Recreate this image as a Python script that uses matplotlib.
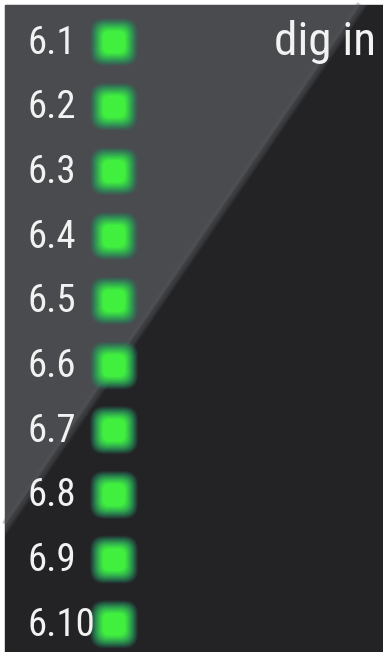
import numpy as np
import matplotlib.pyplot as plt
from matplotlib.patches import Polygon, Rectangle, FancyBboxPatch
from matplotlib import font_manager

# channel labels and LED states (1 = lit)
labels = ["6.1", "6.2", "6.3", "6.4", "6.5", "6.6", "6.7", "6.8", "6.9", "6.10"]
led_on = [1, 1, 1, 1, 1, 1, 1, 1, 1, 1]
title = "dig in"

W, H = 383, 652
fig = plt.figure(figsize=(W / 100, H / 100), dpi=100, facecolor="white")
ax = fig.add_axes([0, 0, 1, 1])
ax.set_xlim(0, W)
ax.set_ylim(H, 0)
ax.axis("off")

# panel: dark base, lighter upper-left triangle with soft diagonal edge
ax.add_patch(Rectangle((5, 5), W - 5, H - 5, color="#232326", zorder=0))
x_top, y_left = 360, 525
for k in range(8, -1, -1):
    ax.add_patch(Polygon([(5, 5), (x_top + k, 5), (5, y_left + k * 1.46)],
                         closed=True, color="#4a4b4e", alpha=0.18 if k else 1.0,
                         lw=0, zorder=1))
ax.plot([x_top - 2, 5], [5, y_left - 3], color="#545558", lw=3, alpha=0.3, zorder=2)

# pick a condensed face if there is one
names = {f.name for f in font_manager.fontManager.ttflist}
cond = [n for n in ["Liberation Sans Narrow", "Roboto Condensed", "Open Sans Condensed",
                    "DejaVu Sans Condensed"] if n in names]
plt.rcParams["font.family"] = cond + ["DejaVu Sans"]
narrow = bool(cond)

spacing = 64.7
y0 = 42
ys = y0 + spacing * np.arange(len(labels))
led_x = 114

# LED glow: many faint rounded squares, outer dim to inner bright
for i, on in enumerate(led_on):
    if not on:
        continue
    n = 20
    for j in range(n):
        t = j / (n - 1)
        half = 24 - 13 * t
        col = (0.15 + 0.12 * t, 0.50 + 0.50 * t, 0.38 - 0.14 * t)
        ax.add_patch(FancyBboxPatch((led_x - half, ys[i] - half), 2 * half, 2 * half,
                                    boxstyle="round,pad=0,rounding_size=%f" % (half * 0.6),
                                    color=col, alpha=0.12 + 0.25 * t, lw=0, zorder=3))

fs_lab = 28 if narrow else 22
fs_tit = 34 if narrow else 28
for lab, y in zip(labels, ys):
    ax.text(27, y + 1, lab, color="#f2f2f2", fontsize=fs_lab, ha="left", va="center",
            fontstretch="condensed", zorder=4)

ax.text(376, 42, title, color="#f2f2f2", fontsize=fs_tit, ha="right", va="center",
        fontstretch="condensed", zorder=4)

fig.savefig("out.png", dpi=100, facecolor="white")
